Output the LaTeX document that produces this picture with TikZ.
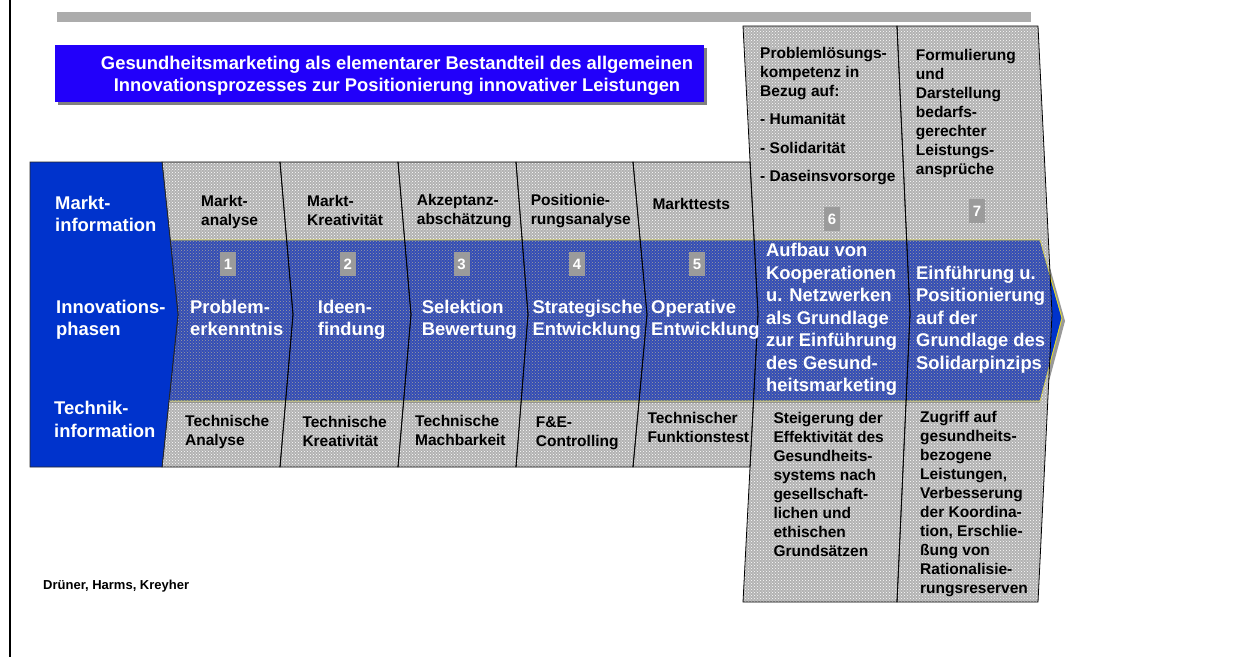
\documentclass[tikz,border=0pt]{standalone}
\usepackage{fontspec}
\setmainfont{Liberation Sans}
\usetikzlibrary{patterns}

\definecolor{titelblau}{RGB}{34,0,250}
\definecolor{labelblau}{RGB}{0,51,204}
\definecolor{bandblau}{RGB}{50,76,182}
\definecolor{spaltengrau}{RGB}{178,178,178}
\definecolor{balkengrau}{RGB}{172,172,172}
\definecolor{ziffergrau}{RGB}{155,155,155}

% one phase column: left edge (top x, tip x), right edge (top x, tip x), (top y : bottom y)
\def\phasecol[#1](#2,#3)(#4,#5)(#6:#7){\path[#1] (#2,#6) -- (#4,#6) -- (#5,{(#6+#7)/2}) -- (#4,#7) -- (#2,#7) -- (#3,{(#6+#7)/2}) -- cycle;}

\tikzset{
  spalte/.style={fill=spaltengrau, postaction={pattern=crosshatch dots, pattern color=white}},
  bandfill/.style={fill=bandblau, postaction={pattern=crosshatch dots, pattern color=gray!75}},
  kante/.style={draw=black, line width=0.8pt},
  % texts are placed at the baseline of their last line
  txt/.style={font=\bfseries\fontsize{15.5}{19}\selectfont, align=left, inner sep=0pt, anchor=base west},
  wtxt/.style={font=\bfseries\fontsize{18.4}{22.5}\selectfont, text=white, align=left, inner sep=0pt, anchor=base west},
  ziffer/.style={fill=ziffergrau, text=white, font=\bfseries\fontsize{15}{18}\selectfont, minimum width=16pt, minimum height=24pt, inner sep=0pt}
}

\begin{document}
\begin{tikzpicture}[x=1pt,y=-1pt]
			%%%%% START %%%%%
			\useasboundingbox (0,0) rectangle (1247,657);
			
			\draw[line width=2pt] (10.3,0) -- (10.3,657);
			\fill[balkengrau] (57,11.5) rectangle (1030.5,21.5);
			
			% title
			\fill[gray] (58,48) rectangle (707,105);
			\fill[titelblau] (55,45) rectangle (704,102);
			\node[wtxt, align=center, anchor=base] (titel) at (397,91.7) {Gesundheitsmarketing als elementarer Bestandteil des allgemeinen\\Innovationsprozesses zur Positionierung innovativer Leistungen};
			
			% arrow band behind the columns
			\fill[gray!80] (172,243) -- (1043,243) -- (1065,321) -- (1043,404) -- (172,404) -- cycle;
			\draw[fill=labelblau, draw=yellow!85!black, line width=0.8pt] (170,240) -- (1040,240) -- (1062,318) -- (1040,401) -- (170,401) -- cycle;
			
			\phasecol[spalte](162,178)(280,293)(162:467)
			\phasecol[spalte](280,293)(398,411)(162:467)
			\phasecol[spalte](398,411)(516,528)(162:467)
			\phasecol[spalte](516,528)(633,647)(162:467)
			\phasecol[spalte](633,647)(750,758)(162:467)
			\phasecol[spalte](743,758)(897,910)(26:602)
			\phasecol[spalte](897,910)(1038,1052)(26:602)
			
			\begin{scope}
				\clip (162,26) -- (1038,26) -- (1052,314) -- (1038,602) -- (162,602) -- cycle;
				\fill[bandfill] (170,240) -- (1040,240) -- (1062,318) -- (1040,401) -- (170,401) -- cycle;
			\end{scope}
			\draw[gray!85, line width=1.5pt] (170,402.5) -- (1040,402.5);
			\draw[yellow!75!gray, line width=0.6pt] (170,240) -- (1040,240) -- (1062,318) -- (1040,401) -- (170,401);
			
			\phasecol[kante](162,178)(280,293)(162:467)
			\phasecol[kante](280,293)(398,411)(162:467)
			\phasecol[kante](398,411)(516,528)(162:467)
			\phasecol[kante](516,528)(633,647)(162:467)
			\phasecol[kante](633,647)(750,758)(162:467)
			\phasecol[kante](743,758)(897,910)(26:602)
			\phasecol[kante](897,910)(1038,1052)(26:602)
			
			% row labels
			\draw[fill=labelblau, draw=black!85, line width=0.8pt] (30,162) -- (162,162) -- (178,314.5) -- (162,467) -- (30,467) -- cycle;
			\node[wtxt] (lmarkt) at (55,231.7) {Markt-\\information};
			\node[wtxt] (linno) at (56,335.7) {Innovations-\\phasen};
			\node[wtxt] (ltech) at (54,437.3) {Technik-\\information};
			
			% market information
			\node[txt] (mk1) at (201,225) {Markt-\\analyse};
			\node[txt] (mk2) at (307,225) {Markt-\\Kreativität};
			\node[txt] (mk3) at (416.7,224) {Akzeptanz-\\abschätzung};
			\node[txt] (mk4) at (530.7,224) {Positionie-\\rungsanalyse};
			\node[txt] (mk5) at (652.3,209.3) {Markttests};
			\node[txt] (mk6) at (760,181.7) {Problemlösungs-\\kompetenz in\\Bezug auf:\\[9.5pt]- Humanität\\[9.5pt]- Solidarität\\[9.5pt]- Daseinsvorsorge};
			\node[txt] (mk7) at (915.7,174) {Formulierung\\und\\Darstellung\\bedarfs-\\gerechter\\Leistungs-\\ansprüche};
			
			% phase numbers
			\node[ziffer] (n1) at (228,264) {1};
			\node[ziffer] (n2) at (347.7,264) {2};
			\node[ziffer] (n3) at (461.5,264) {3};
			\node[ziffer] (n4) at (577,264) {4};
			\node[ziffer] (n5) at (697,264) {5};
			\node[ziffer] (n6) at (832,219) {6};
			\node[ziffer] (n7) at (977,211) {7};
			
			% innovation phases
			\node[wtxt] (ph1) at (190,335.7) {Problem-\\erkenntnis};
			\node[wtxt] (ph2) at (317.7,335.7) {Ideen-\\findung};
			\node[wtxt] (ph3) at (421.7,335.7) {Selektion\\Bewertung};
			\node[wtxt] (ph4) at (532.3,335.7) {Strategische\\Entwicklung};
			\node[wtxt] (ph5) at (651,335.7) {Operative\\Entwicklung};
			\node[wtxt] (ph6) at (766,391.7) {Aufbau von\\Kooperationen\\u. Netzwerken\\als Grundlage\\zur Einführung\\des Gesund-\\heitsmarketing};
			\node[wtxt] (ph7) at (916,369.3) {Einführung u.\\Positionierung\\auf der\\Grundlage des\\Solidarpinzips};
			
			% technical information
			\node[txt] (tk1) at (185,445) {Technische\\Analyse};
			\node[txt] (tk2) at (302.3,446) {Technische\\Kreativität};
			\node[txt] (tk3) at (415,445) {Technische\\Machbarkeit};
			\node[txt] (tk4) at (535.7,446) {F\&E-\\Controlling};
			\node[txt] (tk5) at (647.3,442.7) {Technischer\\Funktionstest};
			\node[txt] (tk6) at (773.3,556.7) {Steigerung der\\Effektivität des\\Gesundheits-\\systems nach\\gesellschaft-\\lichen und\\ethischen\\Grundsätzen};
			\node[txt] (tk7) at (920,593.3) {Zugriff auf\\gesundheits-\\bezogene\\Leistungen,\\Verbesserung\\der Koordina-\\tion, Erschlie-\\ßung von\\Rationalisie-\\rungsreserven};
			
			\node[txt, font=\bfseries\fontsize{13}{15}\selectfont] (quelle) at (43,589.3) {Drüner, Harms, Kreyher};
			%%%%% END %%%%%
\end{tikzpicture}
\end{document}
